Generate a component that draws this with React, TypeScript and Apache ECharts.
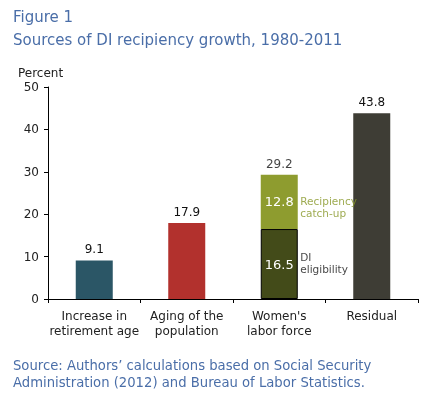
import React, { useEffect, useRef } from "react";
import * as echarts from "echarts";

const categories = ["Increase in\nretirement age", "Aging of the\npopulation", "Women's\nlabor force", "Residual"];
const mainValues: (number | string)[] = [9.1, 17.9, "-", 43.8];
const eligibilityValues: (number | string)[] = ["-", "-", 16.5, "-"];
const catchUpValues: (number | string)[] = ["-", "-", 12.8, "-"];
const womenTotal: (number | string)[] = ["-", "-", 29.2, "-"];
const mainColors = ["#2b5666", "#b2312d", "#434b19", "#3e3d35"];
const yTicks = [0, 10, 20, 30, 40, 50];

const FONT = "DejaVu Sans";
const BLUE = "#4a6ea8";

export default function App() {
  const ref = useRef<HTMLDivElement>(null);
  useEffect(() => {
    const chart = echarts.init(ref.current!, undefined, { renderer: "svg" });
    const option: any = {
      animation: false,
      textStyle: { fontFamily: FONT },
      grid: { left: 48, right: 8, top: 87, bottom: 94 },
      graphic: [
        { type: "text", left: 13, top: 9, style: { text: "Figure 1", font: `15px ${FONT}`, fill: BLUE } },
        { type: "text", left: 13, top: 32, style: { text: "Sources of DI recipiency growth, 1980-2011", font: `15px ${FONT}`, fill: BLUE } },
        { type: "text", left: 18, top: 67, style: { text: "Percent", font: `12px ${FONT}`, fill: "#222" } },
        { type: "text", left: 13, top: 357, style: { text: "Source: Authors’ calculations based on Social Security\nAdministration (2012) and Bureau of Labor Statistics.", font: `13.2px ${FONT}`, fill: BLUE, lineHeight: 17 } },
      ],
      xAxis: {
        type: "category",
        data: categories,
        axisLine: { lineStyle: { color: "#000", width: 1 } },
        axisTick: { show: true, length: 4, lineStyle: { color: "#000" } },
        axisLabel: { color: "#222", fontSize: 12, lineHeight: 15, margin: 9, interval: 0 },
      },
      yAxis: {
        type: "value",
        min: 0,
        max: 50,
        interval: 10,
        splitLine: { show: false },
        axisLine: { show: true, lineStyle: { color: "#000", width: 1 } },
        axisTick: { show: true, length: 4, lineStyle: { color: "#000" } },
        axisLabel: { color: "#222", fontSize: 12, margin: 9, formatter: (v: number) => (yTicks.includes(v) ? String(v) : "") },
      },
      series: [
        {
          type: "bar",
          stack: "s",
          barWidth: 37,
          data: mainValues.map((v, i) => ({ value: v, itemStyle: { color: mainColors[i] } })),
          label: { show: true, position: "top", color: "#111", fontSize: 12, distance: 5 },
        },
        {
          type: "bar",
          stack: "s",
          barWidth: 37,
          data: eligibilityValues,
          itemStyle: { color: "#434b19", borderColor: "#000", borderWidth: 1 },
          label: { show: true, position: "inside", color: "#fff", fontSize: 13 },
        },
        {
          type: "bar",
          stack: "s",
          barWidth: 37,
          data: catchUpValues,
          itemStyle: { color: "#8e9c2f" },
          label: { show: true, position: "inside", color: "#fff", fontSize: 13 },
        },
        {
          type: "scatter",
          symbolSize: 0,
          data: womenTotal,
          label: { show: true, position: "top", color: "#111", fontSize: 12, distance: 5, formatter: (p: any) => String(p.value) },
        },
        {
          type: "scatter",
          symbolSize: 0,
          data: eligibilityValues.map((v) => (typeof v === "number" ? v / 2 + 0.3 : "-")),
          label: { show: true, position: "right", distance: 21, color: "#111", fontSize: 10.5, lineHeight: 12, formatter: () => "DI\neligibility" },
        },
        {
          type: "scatter",
          symbolSize: 0,
          data: eligibilityValues.map((v, i) => (typeof v === "number" ? v + (catchUpValues[i] as number) / 2 - 1.1 : "-")),
          label: { show: true, position: "right", distance: 21, color: "#869626", fontSize: 10.5, lineHeight: 12, formatter: () => "Recipiency\ncatch-up" },
        },
      ],
    };
    chart.setOption(option);
    return () => chart.dispose();
  }, []);
  return <div ref={ref} style={{ position: "fixed", left: 0, top: 0, width: 426, height: 393 }} />;
}
